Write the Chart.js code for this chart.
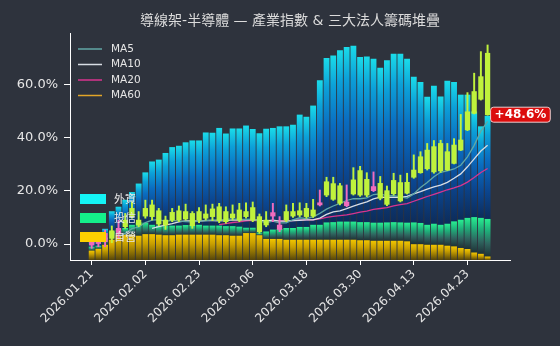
<!DOCTYPE html>
<html>
<head>
<meta charset="utf-8">
<script src="https://cdn.jsdelivr.net/npm/chart.js@4.4.1/dist/chart.umd.min.js"></script>
<style>
  html, body { margin: 0; padding: 0; background: #2e333d; }
  canvas { display: block; }
</style>
</head>
<body>
<canvas id="chart" width="560" height="346"></canvas>
<script>
// trading days (category of every bar / candle)
const dates = [
  "2026.01.21","2026.01.22","2026.01.23","2026.01.26","2026.01.27","2026.01.28","2026.01.29","2026.01.30","2026.02.02","2026.02.03",
  "2026.02.04","2026.02.05","2026.02.06","2026.02.09","2026.02.10","2026.02.11","2026.02.23","2026.02.24","2026.02.25","2026.02.26",
  "2026.03.02","2026.03.03","2026.03.04","2026.03.05","2026.03.06","2026.03.09","2026.03.10","2026.03.11","2026.03.12","2026.03.13",
  "2026.03.16","2026.03.17","2026.03.18","2026.03.19","2026.03.20","2026.03.23","2026.03.24","2026.03.25","2026.03.26","2026.03.27",
  "2026.03.30","2026.03.31","2026.04.01","2026.04.02","2026.04.07","2026.04.08","2026.04.09","2026.04.10","2026.04.13","2026.04.14",
  "2026.04.15","2026.04.16","2026.04.17","2026.04.20","2026.04.21","2026.04.22","2026.04.23","2026.04.24","2026.04.27","2026.04.28"
];
const tickIdx = [0, 8, 16, 24, 32, 40, 48, 56];
const yTicks = [0, 20, 40, 60];
const yMin = -6.0, yMax = 79.3;

// 三大法人 stacked layers (height of each layer, drawn up from the axis floor)
const dealer = [ // 自營 (yellow)
  3.4, 4.1, 5.6, 7.5, 9.4, 9.4, 9.4, 9.0, 9.6, 9.6,
  9.4, 9.2, 9.2, 9.4, 9.4, 9.4, 9.4, 9.4, 9.4, 9.2,
  9.2, 9.0, 9.0, 10.0, 10.0, 9.2, 7.8, 7.8, 7.8, 7.5,
  7.5, 7.5, 7.5, 7.5, 7.5, 7.5, 7.5, 7.5, 7.5, 7.5,
  7.3, 7.3, 7.1, 7.1, 7.1, 7.1, 7.1, 6.9, 6.0, 6.0,
  5.6, 5.6, 5.6, 5.25, 5.0, 4.4, 4.0, 2.7, 2.2, 1.2
];
const trust = [ // 投信 (green)
  1.5, 1.15, 2.7, 3.1, 1.9, 2.5, 3.7, 5.0, 4.3, 3.5,
  3.4, 3.4, 3.6, 3.4, 3.6, 3.6, 3.7, 3.4, 3.4, 3.6,
  3.4, 3.6, 3.4, 2.0, 2.0, 1.0, 2.8, 3.5, 3.7, 4.4,
  4.4, 4.8, 4.8, 5.6, 5.6, 6.5, 6.6, 6.8, 6.8, 6.8,
  6.8, 6.8, 6.8, 6.8, 6.9, 7.0, 6.9, 7.0, 8.0, 7.8,
  7.5, 7.9, 7.5, 8.25, 9.4, 10.6, 11.7, 13.3, 13.5, 14.1
];
const foreign = [ // 外資 (cyan)
  1.85, 2.25, 3.3, 7.6, 8.6, 10.6, 12.3, 14.6, 18.9, 23.8,
  24.8, 27.5, 29.5, 30.0, 31.1, 31.8, 31.7, 35.0, 34.9, 36.7,
  34.8, 36.7, 36.9, 38.4, 37.1, 37.3, 38.6, 38.2, 38.6, 38.2,
  38.8, 42.2, 41.4, 44.8, 54.3, 61.8, 62.6, 64.4, 65.6, 66.1,
  62.1, 62.2, 61.6, 58.2, 60.9, 63.3, 63.4, 61.6, 54.7, 53.0,
  48.1, 51.9, 48.2, 53.7, 52.4, 47.0, 46.3, 39.7, 34.4, 38.8
];

// 產業指數 (% change) candles
const open = [
  -0.38, 0.0, 0.88, 5.0, 3.76, 9.0, 13.4, 9.0, 13.4, 14.7,
  12.5, 9.0, 11.9, 12.5, 12.2, 11.5, 12.2, 11.3, 13.2, 14.0,
  12.2, 11.3, 12.8, 12.2, 13.7, 10.3, 9.0, 10.5, 5.5, 12.2,
  12.2, 12.5, 13.4, 12.8, 14.7, 23.4, 22.7, 21.9, 14.4, 24.1,
  27.6, 24.3, 20.05, 22.8, 20.05, 23.9, 23.1, 23.2, 27.8, 32.8,
  35.3, 36.6, 37.8, 34.7, 37.2, 39.1, 49.7, 57.3, 62.9, 71.7
];
const high = [
  2.13, 2.76, 5.26, 6.8, 9.0, 11.5, 15.9, 12.2, 16.5, 16.5,
  13.4, 10.5, 13.4, 14.3, 15.0, 12.2, 13.7, 14.7, 15.0, 15.3,
  14.0, 14.7, 15.3, 15.5, 15.8, 11.3, 12.2, 15.3, 10.3, 14.7,
  15.3, 15.5, 15.3, 16.8, 20.3, 25.1, 25.1, 22.8, 22.2, 28.7,
  29.2, 26.8, 27.1, 25.4, 21.8, 26.6, 25.9, 26.6, 33.5, 34.7,
  37.8, 38.9, 39.0, 37.8, 39.6, 48.7, 56.9, 64.2, 72.3, 74.8
];
const low = [
  -1.63, -1.0, -1.0, 0.5, 2.13, 5.9, 9.7, 6.5, 9.7, 9.0,
  6.9, 5.5, 8.4, 8.4, 9.0, 5.9, 8.0, 9.0, 8.8, 8.0,
  7.8, 9.0, 8.4, 9.7, 8.4, 4.0, 6.5, 8.4, 4.64, 8.4,
  10.0, 10.3, 9.7, 10.0, 14.3, 17.8, 16.4, 14.7, 14.0, 18.4,
  17.9, 17.8, 19.7, 16.6, 14.4, 18.4, 15.8, 18.8, 24.7, 26.6,
  27.8, 26.6, 26.9, 27.6, 30.1, 35.1, 42.6, 48.9, 54.1, 48.4
];
const close = [
  0.88, 1.5, 4.0, 2.13, 5.9, 6.5, 10.3, 7.15, 10.5, 10.3,
  7.5, 7.15, 9.0, 9.0, 9.4, 6.9, 9.0, 9.7, 10.3, 8.8,
  8.4, 9.9, 9.0, 10.3, 9.0, 4.64, 7.15, 11.8, 7.15, 9.0,
  10.5, 10.9, 10.3, 10.5, 15.5, 18.4, 16.8, 15.3, 15.8, 18.8,
  18.4, 18.4, 21.6, 17.2, 14.9, 18.9, 16.2, 19.1, 25.1, 26.8,
  28.3, 27.1, 27.5, 27.8, 30.3, 35.3, 42.9, 49.1, 54.4, 48.6
];

const maList = [
  { n: 5, label: "MA5", color: "#62a7a6" },
  { n: 10, label: "MA10", color: "#d8dde4" },
  { n: 20, label: "MA20", color: "#d8358f" },
  { n: 60, label: "MA60", color: "#e2a528" }
];
const flowLegend = [
  { label: "外資", color: "#14f4f6" },
  { label: "投信", color: "#14f08a" },
  { label: "自營", color: "#ffd000" }
];

const UP = "#f06cbe";   // 漲 (pink)
const DOWN = "#c0f23c"; // 跌 (lime)

Chart.defaults.font.family = "'DejaVu Sans', 'Noto Sans CJK TC', sans-serif";

// stack levels
const floor = dealer.map(() => yMin);
const lvl1 = dealer.map((v, i) => floor[i] + v);
const lvl2 = lvl1.map((v, i) => v + trust[i]);
const lvl3 = lvl2.map((v, i) => v + foreign[i]);

function gradFor(ctx, stops) {
  const { chart, raw } = ctx;
  if (!raw || !chart.chartArea) return stops[0][1];
  const ys = chart.scales.y;
  const top = ys.getPixelForValue(raw.y[1]);
  const bot = ys.getPixelForValue(raw.y[0]);
  if (!isFinite(top) || !isFinite(bot) || bot - top < 0.5) return stops[0][1];
  const g = chart.ctx.createLinearGradient(0, top, 0, bot);
  stops.forEach(([p, c]) => g.addColorStop(p, c));
  return g;
}

function layer(lo, hi, stops) {
  return {
    type: "bar",
    data: hi.map((v, i) => ({ x: i, y: [lo[i], v] })),
    grouped: false,
    barThickness: 5.2,
    borderWidth: 0,
    order: 10,
    backgroundColor: c => gradFor(c, stops)
  };
}

function ma(n) {
  return close.map((_, i) => {
    if (i < n - 1) return { x: i, y: null };
    let s = 0;
    for (let k = i - n + 1; k <= i; k++) s += close[k];
    return { x: i, y: s / n };
  });
}

const isUp = close.map((c, i) => c >= open[i]);

const datasets = [
  layer(floor, lvl1, [[0, "#f0c400"], [0.35, "#c9a000"], [0.7, "#8c7004"], [1, "#54440a"]]),
  layer(lvl1, lvl2, [[0, "#28ec90"], [0.3, "#1fb07a"], [0.65, "#2f645f"], [1, "#1d3034"]]),
  layer(lvl2, lvl3, [[0, "#1adbe9"], [0.18, "#0ca0d8"], [0.42, "#0a6cc0"], [0.72, "#0b4690"], [1, "#0d2c5a"]]),
  ...maList.map(m => ({
    type: "line",
    data: ma(m.n),
    borderColor: m.color,
    borderWidth: 1.3,
    pointRadius: 0,
    tension: 0,
    order: 5
  })),
  { // wicks
    type: "bar",
    data: low.map((v, i) => ({ x: i, y: [v, high[i]] })),
    grouped: false,
    barThickness: 1.3,
    borderWidth: 0,
    order: 2,
    backgroundColor: c => isUp[c.dataIndex] ? UP : DOWN
  },
  { // bodies
    type: "bar",
    data: open.map((o, i) => ({ x: i, y: [Math.min(o, close[i]), Math.max(o, close[i])] })),
    grouped: false,
    barThickness: 4.6,
    minBarLength: 2,
    borderWidth: 0,
    order: 1,
    backgroundColor: c => isUp[c.dataIndex] ? UP : DOWN
  }
];

// title, legends and the last value tag
const deco = {
  id: "deco",
  afterDatasetsDraw(chart) {
    const g = chart.ctx;
    g.save();
    // MA legend
    g.font = "10.5px 'DejaVu Sans'";
    g.textBaseline = "middle";
    maList.forEach((m, k) => {
      const y = 49 + k * 15.5;
      g.strokeStyle = m.color;
      g.lineWidth = 1.5;
      g.beginPath(); g.moveTo(78, y); g.lineTo(102, y); g.stroke();
      g.fillStyle = "#e6e6e6";
      g.fillText(m.label, 111, y);
    });
    // 籌碼 legend
    g.font = "11px 'Noto Sans CJK TC'";
    flowLegend.forEach((f, k) => {
      const y = 194 + k * 19;
      g.fillStyle = f.color;
      g.fillRect(80, y, 26, 10);
      g.fillStyle = "#e6e6e6";
      g.fillText(f.label, 114, y + 5);
    });
    // last close tag
    const last = close.length - 1;
    const px = chart.scales.x.getPixelForValue(last) + 3;
    const py = chart.scales.y.getPixelForValue(close[last]);
    const txt = (close[last] >= 0 ? "+" : "") + close[last].toFixed(1) + "%";
    g.font = "bold 12px 'DejaVu Sans'";
    const w = g.measureText(txt).width + 8;
    g.beginPath();
    g.roundRect(px, py - 7.5, w, 15, 3);
    g.fillStyle = "#dc0d0d";
    g.fill();
    g.strokeStyle = "rgba(255,235,235,0.85)";
    g.lineWidth = 1;
    g.stroke();
    g.fillStyle = "#ffffff";
    g.textAlign = "left";
    g.fillText(txt, px + 4, py + 0.5);
    g.restore();
  },
  afterDraw(chart) {
    const g = chart.ctx;
    const a = chart.chartArea;
    g.save();
    g.font = "14px 'DejaVu Sans', 'Noto Sans CJK TC'";
    g.fillStyle = "#dcdcdc";
    g.textAlign = "center";
    g.textBaseline = "middle";
    g.fillText("導線架-半導體 — 產業指數 & 三大法人籌碼堆疊", (a.left + a.right) / 2, 21);
    g.restore();
  }
};

new Chart(document.getElementById("chart"), {
  data: { datasets },
  options: {
    responsive: false,
    animation: false,
    devicePixelRatio: 1,
    layout: { padding: { left: 0, right: 50, top: 33, bottom: 0 } },
    plugins: { legend: { display: false }, tooltip: { enabled: false } },
    scales: {
      x: {
        type: "linear",
        offset: false,
        min: -3.23,
        max: 62.34,
        afterBuildTicks: s => { s.ticks = tickIdx.map(v => ({ value: v })); },
        afterFit: s => { s.height = 86; },
        ticks: {
          callback: v => dates[v],
          autoSkip: false,
          minRotation: 45,
          maxRotation: 45,
          color: "#e6e6e6",
          font: { size: 12 },
          padding: 2
        },
        grid: { display: true, offset: false, drawOnChartArea: false, drawTicks: true, tickLength: 5, color: "#ffffff" },
        border: { display: true, color: "#ffffff", width: 1 }
      },
      y: {
        min: yMin,
        max: yMax,
        afterBuildTicks: s => { s.ticks = yTicks.map(v => ({ value: v })); },
        afterFit: s => { s.width = 70; },
        ticks: {
          callback: v => v.toFixed(1) + "%",
          color: "#e6e6e6",
          font: { size: 13 },
          padding: 6
        },
        grid: { display: true, drawOnChartArea: false, drawTicks: true, tickLength: 6, color: "#ffffff" },
        border: { display: true, color: "#ffffff", width: 1 }
      }
    }
  },
  plugins: [deco]
});
</script>
</body>
</html>
